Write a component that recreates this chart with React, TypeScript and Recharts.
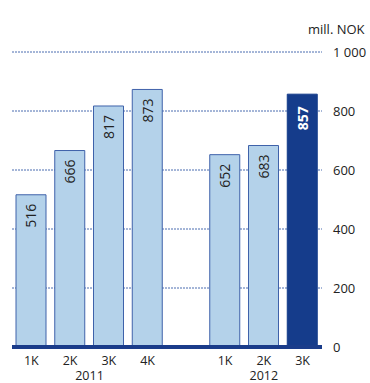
import { BarChart, Bar, XAxis, YAxis, CartesianGrid, LabelList } from 'recharts';

const quarters = ['1K', '2K', '3K', '4K', '', '1K', '2K', '3K'];
const years = ['', '2011', '', '', '', '', '2012', ''];
const yearShift = [0, 0.5, 0, 0, 0, 0, 0, 0];
const pastValues = [516, 666, 817, 873, null, 652, 683, null];
const currentValues = [null, null, null, null, null, null, null, 857];
const yTicks = [0, 200, 400, 600, 800, 1000];

const W = 370;
const H = 383;
const LEFT = 12;
const AXIS_W = 48;
const SLOT = (W - LEFT - AXIS_W) / quarters.length;

const data = quarters.map((q, i) => ({
  q,
  year: years[i],
  shift: yearShift[i],
  past: pastValues[i],
  cur: currentValues[i],
}));

const FONT = '"Open Sans", "DejaVu Sans", sans-serif';

function QuarterTick(props: any) {
  const { x, y, payload } = props;
  const row = data[payload.index];
  return (
    <g>
      <text x={x} y={y + 13} textAnchor="middle" dominantBaseline="central" fontSize={12.5} fill="#222" fontFamily={FONT}>
        {row.q}
      </text>
      {row.year && (
        <text x={x + row.shift * SLOT} y={y + 28} textAnchor="middle" dominantBaseline="central" fontSize={12.5} fill="#222" fontFamily={FONT}>
          {row.year}
        </text>
      )}
    </g>
  );
}

const makeLabel = (bold: boolean) => (props: any) => {
  const { x, y, width, value } = props;
  if (value == null) return null;
  const cx = x + width / 2;
  const ty = y + (bold ? 12 : 9);
  return (
    <text
      x={cx}
      y={ty}
      transform={`rotate(-90 ${cx} ${ty})`}
      textAnchor="end"
      dominantBaseline="central"
      fontSize={14}
      fontWeight={bold ? 700 : 400}
      fill={bold ? '#fff' : '#222'}
      fontFamily={FONT}
    >
      {value}
    </text>
  );
};

const PastLabel = makeLabel(false);
const CurLabel = makeLabel(true);

export default function App() {
  return (
    <div style={{ position: 'absolute', left: 0, top: 0, width: W, height: H, background: '#fff', fontFamily: FONT }}>
      <div style={{ position: 'absolute', left: 308, top: 20, fontSize: 13, color: '#222' }}>mill. NOK</div>
      <BarChart width={W} height={H} data={data} margin={{ top: 52, right: 0, bottom: 0, left: LEFT }} barSize={30}>
        <CartesianGrid vertical={false} stroke="#4a6cb0" strokeDasharray="2 1" strokeWidth={1} />
        <XAxis
          dataKey="q"
          height={36}
          interval={0}
          tickLine={false}
          tickSize={0}
          tickMargin={0}
          axisLine={{ stroke: '#1a3c8a', strokeWidth: 4 }}
          tick={<QuarterTick />}
        />
        <YAxis
          orientation="right"
          width={AXIS_W}
          domain={[0, 1000]}
          ticks={yTicks}
          axisLine={false}
          tickLine={false}
          tickSize={6}
          tickMargin={5}
          tick={{ fontSize: 13, fill: '#222', textAnchor: 'start', fontFamily: FONT }}
          tickFormatter={(v: number) => (v >= 1000 ? `${Math.floor(v / 1000)} ${String(v % 1000).padStart(3, '0')}` : String(v))}
        />
        <Bar dataKey="past" stackId="s" fill="#b4d2ea" stroke="#3f62aa" strokeWidth={1} isAnimationActive={false}>
          <LabelList dataKey="past" content={PastLabel} />
        </Bar>
        <Bar dataKey="cur" stackId="s" fill="#153c8b" stroke="#153c8b" strokeWidth={1} isAnimationActive={false}>
          <LabelList dataKey="cur" content={CurLabel} />
        </Bar>
      </BarChart>
    </div>
  );
}
